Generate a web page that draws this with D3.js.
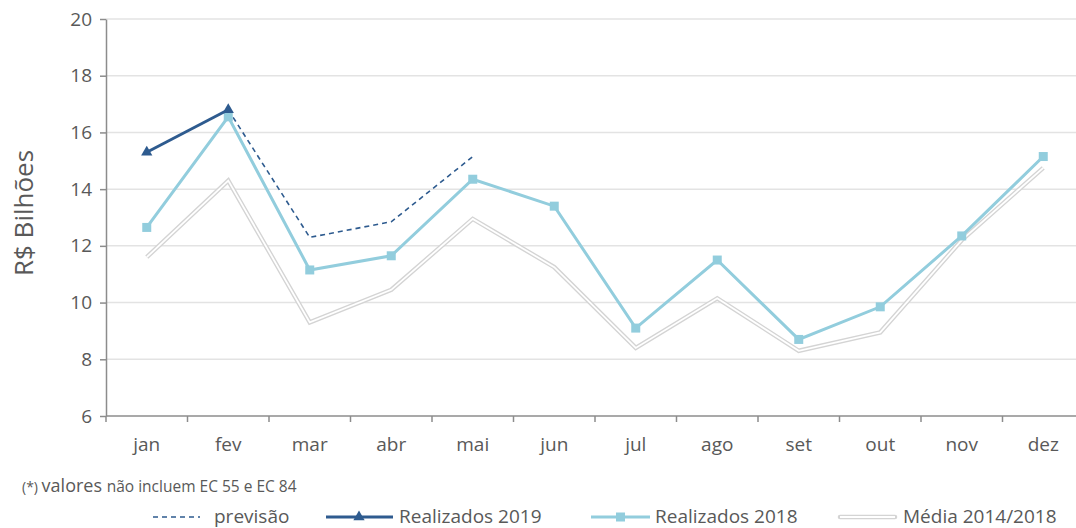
<!DOCTYPE html>
<meta charset="utf-8">
<style>
body { margin: 0; background: #fff; }
text { font-family: "Open Sans", "DejaVu Sans", sans-serif; fill: #595959; }
.grid line { stroke: #e3e3e3; stroke-width: 1.5; }
.axis path, .axis line { stroke: #8c8c8c; stroke-width: 1.5; }
</style>
<svg width="1076" height="528"></svg>
<script src="https://d3js.org/d3.v7.min.js"></script>
<script>

var months = ["jan", "fev", "mar", "abr", "mai", "jun", "jul", "ago", "set", "out", "nov", "dez"];
var yTicks = [6, 8, 10, 12, 14, 16, 18, 20];

var real2019 = [15.3, 16.8];
var real2018 = [12.65, 16.55, 11.15, 11.65, 14.35, 13.4, 9.1, 11.5, 8.7, 9.85, 12.35, 15.15];
var media = [11.6, 14.3, 9.3, 10.45, 12.95, 11.25, 8.4, 10.15, 8.3, 8.95, 12.2, 14.75];
// previsão goes from fev to mai
var previsaoMonths = ["fev", "mar", "abr", "mai"];
var previsao = [16.8, 12.3, 12.85, 15.15];

var svg = d3.select("svg"),
    margin = {top: 19, right: -8, bottom: 112, left: 106},
    width = +svg.attr("width") - margin.left - margin.right,
    height = +svg.attr("height") - margin.top - margin.bottom;

var x = d3.scaleBand().domain(months).range([0, width]),
    y = d3.scaleLinear().domain([6, 20]).range([height, 0]);

var g = svg.append("g")
    .attr("transform", "translate(" + margin.left + "," + margin.top + ")");

var cx = function(m) { return x(m) + x.bandwidth() / 2; };

// gridlines
g.append("g")
    .attr("class", "grid")
  .selectAll("line")
  .data(yTicks.slice(1))
  .enter().append("line")
    .attr("x1", 0).attr("x2", width)
    .attr("y1", function(d) { return y(d); })
    .attr("y2", function(d) { return y(d); });

// y axis
var yAxis = g.append("g")
    .attr("class", "axis")
    .call(d3.axisLeft(y).tickValues(yTicks).tickSize(6).tickSizeOuter(0).tickPadding(8));
yAxis.selectAll("text").style("font-size", "19px").attr("fill", "#595959");

// x axis, ticks on band edges
var xAxis = g.append("g")
    .attr("class", "axis")
    .attr("transform", "translate(0," + height + ")");
xAxis.append("line").attr("x1", 0).attr("x2", width);
xAxis.selectAll(".tk")
  .data(months.concat(["end"]))
  .enter().append("line")
    .attr("class", "tk")
    .attr("x1", function(d, i) { return i * x.bandwidth(); })
    .attr("x2", function(d, i) { return i * x.bandwidth(); })
    .attr("y1", 0).attr("y2", 6);
xAxis.selectAll("text")
  .data(months)
  .enter().append("text")
    .attr("x", function(d) { return cx(d); })
    .attr("y", 35)
    .attr("text-anchor", "middle")
    .style("font-size", "19px")
    .text(function(d) { return d; });

// y label
svg.append("text")
    .attr("transform", "translate(33,213) rotate(-90)")
    .attr("text-anchor", "middle")
    .style("font-size", "26px")
    .text("R$ Bilhões");

var line = d3.line()
    .x(function(d) { return cx(d.m); })
    .y(function(d) { return y(d.v); });

var mediaData = months.map(function(m, i) { return {m: m, v: media[i]}; });
var r18Data = months.map(function(m, i) { return {m: m, v: real2018[i]}; });
var r19Data = real2019.map(function(v, i) { return {m: months[i], v: v}; });
var prevData = previsaoMonths.map(function(m, i) { return {m: m, v: previsao[i]}; });

// média: double line
g.append("path").datum(mediaData)
    .attr("d", line).attr("fill", "none")
    .attr("stroke", "#d4d4d4").attr("stroke-width", 4.5);
g.append("path").datum(mediaData)
    .attr("d", line).attr("fill", "none")
    .attr("stroke", "#fff").attr("stroke-width", 1.8);

// previsão dashed
g.append("path").datum(prevData)
    .attr("d", line).attr("fill", "none")
    .attr("stroke", "#2e5b8f").attr("stroke-width", 1.6)
    .attr("stroke-dasharray", "5,4");

// realizados 2018
g.append("path").datum(r18Data)
    .attr("d", line).attr("fill", "none")
    .attr("stroke", "#92cddd").attr("stroke-width", 3);
g.selectAll(".sq")
  .data(r18Data)
  .enter().append("rect")
    .attr("class", "sq")
    .attr("x", function(d) { return cx(d.m) - 4.5; })
    .attr("y", function(d) { return y(d.v) - 4.5; })
    .attr("width", 9).attr("height", 9)
    .attr("fill", "#92cddd");

// realizados 2019
g.append("path").datum(r19Data)
    .attr("d", line).attr("fill", "none")
    .attr("stroke", "#2e5b8f").attr("stroke-width", 3);
var tri = d3.symbol().type(d3.symbolTriangle).size(55);
g.selectAll(".tri")
  .data(r19Data)
  .enter().append("path")
    .attr("class", "tri")
    .attr("transform", function(d) { return "translate(" + cx(d.m) + "," + y(d.v) + ")"; })
    .attr("d", tri)
    .attr("fill", "#2e5b8f");

// footnote
var foot = svg.append("text")
    .attr("x", 22).attr("y", 492);
foot.append("tspan").style("font-size", "14px").text("(*) ");
foot.append("tspan").style("font-size", "18px").text("valores ");
foot.append("tspan").style("font-size", "15.5px").text("não incluem EC 55 e EC 84");

// legend
var legY = 517;
var leg = svg.append("g");
leg.append("line").attr("x1", 153).attr("x2", 200).attr("y1", legY).attr("y2", legY)
    .attr("stroke", "#2e5b8f").attr("stroke-width", 1.6).attr("stroke-dasharray", "5,4");
leg.append("text").attr("x", 214).attr("y", legY + 6).style("font-size", "19px").text("previsão");

leg.append("line").attr("x1", 326).attr("x2", 393).attr("y1", legY).attr("y2", legY)
    .attr("stroke", "#2e5b8f").attr("stroke-width", 3);
leg.append("path").attr("transform", "translate(359," + legY + ")")
    .attr("d", tri).attr("fill", "#2e5b8f");
leg.append("text").attr("x", 399).attr("y", legY + 6).style("font-size", "19px").text("Realizados 2019");

leg.append("line").attr("x1", 591).attr("x2", 650).attr("y1", legY).attr("y2", legY)
    .attr("stroke", "#92cddd").attr("stroke-width", 3);
leg.append("rect").attr("x", 616).attr("y", legY - 4.5).attr("width", 9).attr("height", 9)
    .attr("fill", "#92cddd");
leg.append("text").attr("x", 655).attr("y", legY + 6).style("font-size", "19px").text("Realizados 2018");

leg.append("line").attr("x1", 840).attr("x2", 895).attr("y1", legY).attr("y2", legY)
    .attr("stroke", "#d4d4d4").attr("stroke-width", 4.5).attr("stroke-linecap", "round");
leg.append("line").attr("x1", 840).attr("x2", 895).attr("y1", legY).attr("y2", legY)
    .attr("stroke", "#fff").attr("stroke-width", 1.8);
leg.append("text").attr("x", 903).attr("y", legY + 6).style("font-size", "19px").text("Média 2014/2018");

</script>
